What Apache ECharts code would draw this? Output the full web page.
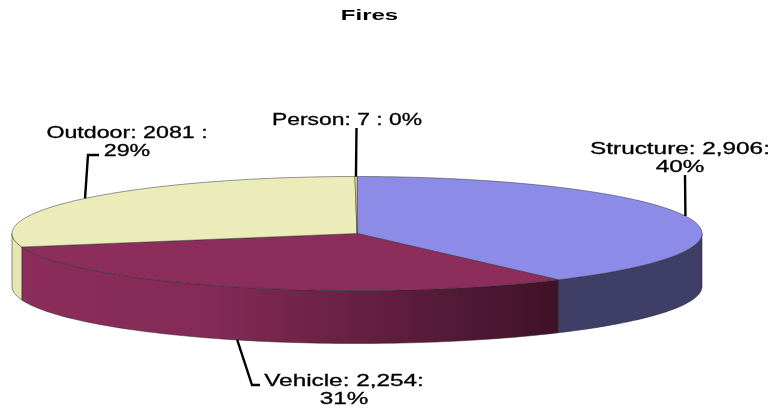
<!DOCTYPE html>
<html>
<head>
<meta charset="utf-8">
<style>
  html, body { margin: 0; padding: 0; background: #fff; }
  #chart { width: 771px; height: 409px; }
</style>
<script src="https://cdn.jsdelivr.net/npm/echarts@6/dist/echarts.min.js"></script>
</head>
<body>
<div id="chart"></div>
<script>
// data, clockwise from 12 o'clock
const sliceNames = ['Structure', 'Vehicle', 'Outdoor', 'Person']
const sliceValues = [2906, 2254, 2081, 7]
const sliceLabels = ['Structure: 2,906:\n40%', 'Vehicle: 2,254:\n31%', 'Outdoor: 2081 :\n29%', 'Person: 7 : 0%']

// look of the flattened pie
const topColors = ['#8c8ce8', '#8c2d5b', '#ecebba', '#ecebba']
const wallColors = ['#3e3e66', null, '#e6e6b4', '#e6e6b4']
const cx = 357, cy = 233.5, rx = 345, ry = 57, depth = 53
// label anchor (text centre), horizontal stretch and leader elbow, per slice
const labelPos = [[680, 159], [344, 391], [127, 143], [347, 121]]
const labelStretch = [1.52, 1.52, 1.45, 1.43]
const leaderEnd = [[685, 175], [260, 385], [99, 155], [356.5, 128]]
const leaderElbow = [null, [252, 385], [88, 155], null]

const total = sliceValues.reduce((a, b) => a + b, 0)
const cumul = [0]
sliceValues.forEach((v, i) => cumul.push(cumul[i] + v / total * 360))

const rimPoint = (deg, dy = 0) => {
  const r = deg * Math.PI / 180
  return [cx + rx * Math.sin(r), cy - ry * Math.cos(r) + dy]
}
const arc = (from, to, dy = 0) => {
  const pts = []
  const n = Math.max(2, Math.ceil((to - from) / 1.5))
  for (let k = 0; k <= n; k++) pts.push(rimPoint(from + (to - from) * k / n, dy))
  return pts
}

const vehicleGradient = new echarts.graphic.LinearGradient(0, 0, 1, 0, [
  { offset: 0, color: '#8c2d5b' },
  { offset: 0.35, color: '#842a56' },
  { offset: 1, color: '#3e1229' }
])

const renderWall = (params, api) => {
  const i = api.value(0)
  const from = Math.max(cumul[i], 90)
  const to = Math.min(cumul[i + 1], 270)
  if (to <= from) return { type: 'group', children: [] }
  return {
    type: 'polygon',
    shape: { points: arc(from, to).concat(arc(from, to, depth).reverse()) },
    style: { fill: wallColors[i] || vehicleGradient, stroke: '#222', lineWidth: 0.5 }
  }
}

const renderTop = (params, api) => {
  const i = api.value(0)
  return {
    type: 'polygon',
    shape: { points: [[cx, cy]].concat(arc(cumul[i], cumul[i + 1])) },
    style: { fill: topColors[i], stroke: '#333', lineWidth: 0.5 }
  }
}

const renderLabel = (params, api) => {
  const i = api.value(0)
  const mid = (cumul[i] + cumul[i + 1]) / 2
  // Vehicle hangs from the lower rim, the others from the top face
  const isFront = mid > 90 && mid < 270
  const anchor = rimPoint(mid, isFront ? depth : 0)
  const linePts = [anchor]
  if (leaderElbow[i]) linePts.push(leaderElbow[i])
  linePts.push(leaderEnd[i])
  return {
    type: 'group',
    children: [
      {
        type: 'polyline',
        shape: { points: linePts },
        style: { fill: 'none', stroke: '#000', lineWidth: 2.4 }
      },
      {
        type: 'text',
        x: labelPos[i][0],
        y: labelPos[i][1],
        scaleX: labelStretch[i],
        style: {
          text: sliceLabels[i],
          fontFamily: '"Liberation Sans", Arial, sans-serif',
          fontSize: 16,
          lineHeight: 18,
          fill: '#000',
          stroke: '#000',
          lineWidth: 0.3,
          align: 'center',
          verticalAlign: 'middle'
        }
      }
    ]
  }
}

const rows = sliceValues.map((v, i) => ({ name: sliceNames[i], value: [i, v] }))

const chart = echarts.init(document.getElementById('chart'))
chart.setOption({
  animation: false,
  backgroundColor: '#fff',
  graphic: [{
    type: 'text',
    x: 369.5,
    y: 16,
    scaleX: 1.6,
    style: {
      text: 'Fires',
      fontFamily: '"Liberation Sans", Arial, sans-serif',
      fontSize: 15,
      fontWeight: 'bold',
      fill: '#000',
      align: 'center',
      verticalAlign: 'middle'
    }
  }],
  series: [
    { type: 'custom', coordinateSystem: 'none', silent: true, renderItem: renderWall, data: rows, z: 1 },
    { type: 'custom', coordinateSystem: 'none', silent: true, renderItem: renderTop, data: rows, z: 2 },
    { type: 'custom', coordinateSystem: 'none', silent: true, renderItem: renderLabel, data: rows, z: 3 }
  ]
})
</script>
</body>
</html>
